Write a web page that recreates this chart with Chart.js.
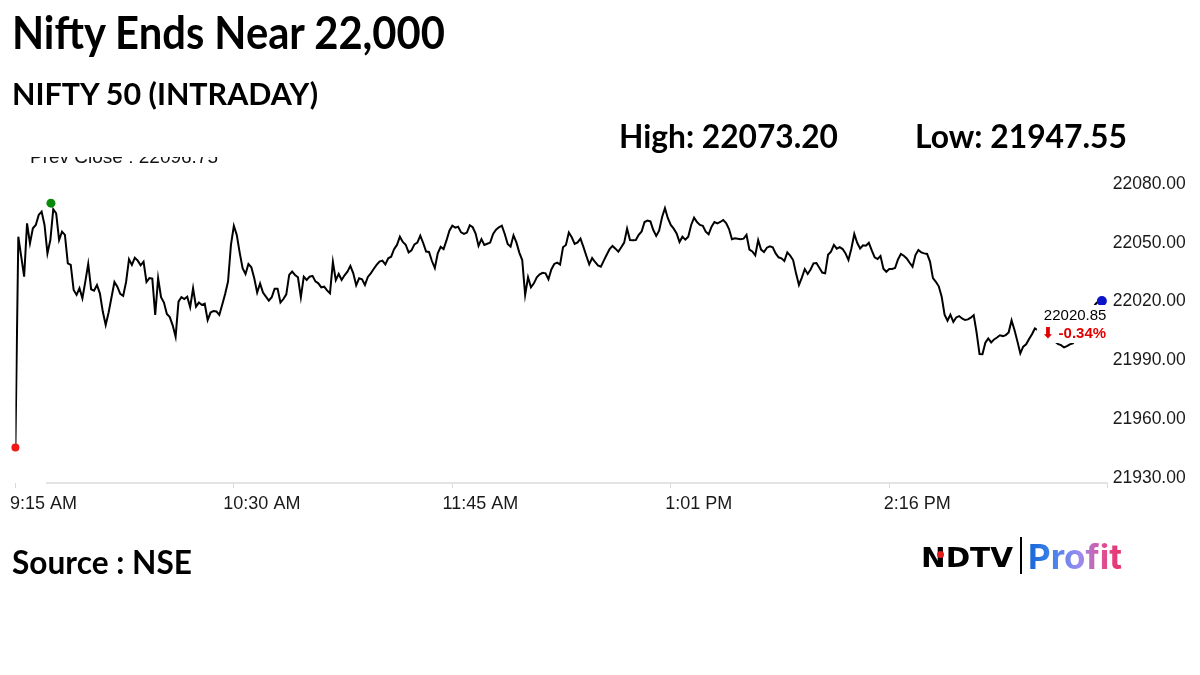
<!DOCTYPE html>
<html>
<head>
<meta charset="utf-8">
<script src="https://cdn.jsdelivr.net/npm/chart.js@4.4.1/dist/chart.umd.min.js"></script>
<style>
  body { margin: 0; background: #fff; width: 1200px; height: 675px; overflow: hidden; position: relative; }
  #c { position: absolute; left: 0; top: 0; }
  .t { position: absolute; white-space: nowrap; font-family: Lato, sans-serif; font-weight: 700; color: #000; line-height: 1; transform-origin: 0 0; }
  #ndtv { font-family: "DejaVu Sans", sans-serif; font-size: 27px; }
  #profit { font-family: Inter, sans-serif; font-size: 34px;
    background: linear-gradient(90deg, #1565d8 0%, #3f82ea 25%, #9a8cf0 55%, #df4f92 80%, #e8336c 100%);
    -webkit-background-clip: text; background-clip: text; color: transparent; }
  #bar { position: absolute; left: 1020px; top: 537px; width: 2px; height: 37px; background: #000; }
  #dot { position: absolute; left: 937px; top: 551px; width: 7px; height: 7px; border-radius: 50%; background: #e21b1b; }
</style>
</head>
<body>
<canvas id="c" width="1200" height="675"></canvas>
<div class="t" data-w="433" style="left:12px;top:10px;font-size:45px">Nifty Ends Near 22,000</div>
<div class="t" data-w="306" style="left:12px;top:78px;font-size:31px">NIFTY 50 (INTRADAY)</div>
<div class="t" data-w="219" style="left:619px;top:120px;font-size:32px">High: 22073.20</div>
<div class="t" data-w="212" style="left:915px;top:120px;font-size:32px">Low: 21947.55</div>
<div class="t" data-w="180" style="left:12px;top:546px;font-size:32px">Source : NSE</div>
<div class="t" id="ndtv" data-w="92" style="left:921px;top:544px">NDTV</div>
<div id="dot"></div>
<div id="bar"></div>
<div class="t" id="profit" data-w="94" style="left:1028px;top:540px">Profit</div>
<script>
// NIFTY 50, one value per minute from 9:15
const values = [
  21945.5, 22053.1, 22042.9, 22032.7, 22059.9, 22049.7, 22057.4, 22059.1, 22064.2, 22065.9,
  22059.1, 22044.6, 22051.4, 22067.1, 22065.0, 22051.4, 22055.7, 22054.0, 22039.5, 22038.7,
  22025.9, 22023.4, 22026.8, 22021.7, 22030.2, 22039.2, 22026.3, 22025.6, 22028.5, 22024.2,
  22014.9, 22008.1, 22014.4, 22022.2, 22030.0, 22027.6, 22023.9, 22022.9, 22030.0, 22041.6,
  22038.7, 22042.4, 22040.9, 22038.5, 22040.4, 22030.0, 22032.0, 22031.7, 22013.2, 22031.9,
  22022.2, 22019.5, 22013.7, 22012.1, 22007.9, 22002.1, 22020.0, 22022.3, 22021.3, 22022.5,
  22017.1, 22026.8, 22017.4, 22019.5, 22018.3, 22018.9, 22010.6, 22014.4, 22015.2, 22015.0,
  22013.2, 22018.4, 22023.9, 22030.2, 22048.9, 22058.6, 22054.0, 22045.0, 22037.0, 22034.1,
  22039.2, 22037.5, 22031.9, 22024.6, 22029.2, 22024.6, 22022.5, 22020.5, 22022.2, 22026.6,
  22026.6, 22019.5, 22021.3, 22023.7, 22033.6, 22035.3, 22033.6, 22032.4, 22022.2, 22032.7,
  22031.0, 22032.7, 22033.1, 22030.3, 22029.3, 22027.3, 22027.6, 22025.7, 22024.2, 22040.2,
  22030.9, 22034.1, 22031.0, 22033.4, 22035.3, 22038.2, 22034.4, 22028.3, 22031.9, 22031.4,
  22028.5, 22032.6, 22034.4, 22036.6, 22038.7, 22040.4, 22040.9, 22039.0, 22042.1, 22042.9,
  22046.7, 22048.9, 22053.1, 22050.4, 22049.0, 22045.1, 22046.2, 22049.2, 22050.1, 22053.6,
  22049.9, 22045.5, 22045.3, 22040.7, 22037.1, 22044.6, 22047.9, 22046.8, 22051.2, 22056.2,
  22058.7, 22057.7, 22058.2, 22055.3, 22054.5, 22055.2, 22058.9, 22057.9, 22054.7, 22048.4,
  22051.9, 22048.9, 22049.5, 22050.1, 22054.5, 22056.7, 22057.9, 22058.7, 22054.5, 22049.4,
  22048.0, 22053.8, 22050.2, 22045.0, 22041.2, 22023.4, 22032.4, 22027.3, 22029.3, 22032.4,
  22033.9, 22034.7, 22034.4, 22031.4, 22036.4, 22039.2, 22039.9, 22038.9, 22047.7, 22048.9,
  22055.2, 22052.8, 22049.4, 22050.2, 22052.1, 22047.9, 22043.4, 22039.0, 22042.2, 22040.2,
  22038.5, 22037.8, 22040.9, 22043.9, 22046.8, 22048.4, 22047.0, 22045.5, 22047.7, 22050.1,
  22057.2, 22051.4, 22051.3, 22051.4, 22054.1, 22055.8, 22060.6, 22061.3, 22060.9, 22056.5,
  22053.5, 22056.2, 22063.0, 22067.6, 22062.5, 22059.1, 22057.2, 22054.8, 22050.4, 22053.1,
  22051.6, 22053.1, 22059.1, 22062.8, 22060.6, 22059.1, 22058.7, 22055.7, 22054.3, 22058.2,
  22060.6, 22059.9, 22060.6, 22061.6, 22060.1, 22057.0, 22051.8, 22052.3, 22052.1, 22051.8,
  22052.1, 22054.0, 22046.5, 22045.6, 22043.6, 22051.3, 22046.5, 22045.3, 22047.5, 22048.2,
  22047.7, 22044.6, 22042.6, 22042.1, 22040.7, 22045.1, 22043.4, 22041.2, 22034.4, 22028.5,
  22032.2, 22036.6, 22034.1, 22036.4, 22039.5, 22039.7, 22037.3, 22034.8, 22034.4, 22043.9,
  22045.5, 22048.9, 22047.0, 22047.8, 22046.8, 22044.6, 22041.2, 22047.1, 22054.5, 22050.0,
  22047.1, 22048.7, 22048.5, 22050.0, 22046.1, 22042.6, 22041.7, 22043.2, 22036.8, 22035.2,
  22036.6, 22036.6, 22037.1, 22041.5, 22044.3, 22043.4, 22042.0, 22039.8, 22037.8, 22043.7,
  22046.3, 22045.1, 22044.6, 22044.3, 22040.4, 22032.0, 22030.1, 22027.8, 22022.5, 22013.3,
  22010.2, 22013.3, 22009.7, 22011.9, 22012.6, 22011.4, 22010.6, 22010.9, 22011.8, 22013.1,
  22004.1, 21993.2, 21993.1, 21999.0, 22001.2, 21999.2, 22000.7, 22001.7, 22002.8, 22002.4,
  22002.9, 22004.3, 22010.4, 22005.5, 21999.7, 21993.6, 21997.0, 21998.2, 22000.9, 22003.3,
  22006.3, 22005.5, 22003.8, 22002.1, 22002.9, 22001.2, 22000.4, 21999.5, 21998.3, 21997.8,
  21996.6, 21997.3, 21998.2, 21998.7, 22000.5, 22003.0, 22006.0, 22009.0, 22012.0, 22015.0,
  22017.0, 22019.0, 22020.3
];

const xTickMinutes = [0, 75, 150, 225, 300, 375];
const xTickLabels = ["9:15 AM", "10:30 AM", "11:45 AM", "1:01 PM", "2:16 PM", ""];
const yTicks = [21930, 21960, 21990, 22020, 22050, 22080];

const highPoint = [{ x: 12.2, y: 22070.2 }];
const lowPoint = [{ x: 0, y: 21945.5 }];
const closePoint = [{ x: 373, y: 22020.3 }];
const prevClose = 22096.75;
const closeText = "22020.85";
const changeText = "\u2B07 -0.34%";

const overlay = {
  id: 'overlay',
  afterDatasetsDraw(chart) {
    const ctx = chart.ctx;
    const px = chart.scales.x.getPixelForValue(closePoint[0].x);
    const py = chart.scales.y.getPixelForValue(closePoint[0].y);
    ctx.save();
    ctx.fillStyle = '#fff';
    ctx.fillRect(px - 65, py + 4, 72, 38);
    ctx.textBaseline = 'middle';
    ctx.fillStyle = '#000';
    ctx.font = '15px "Liberation Sans", Arial, sans-serif';
    ctx.fillText(closeText, px - 58, py + 15);
    ctx.fillStyle = '#e00000';
    ctx.font = 'bold 15px "Liberation Sans", "DejaVu Sans", sans-serif';
    ctx.fillText(changeText, px - 60, py + 33);
    ctx.restore();
  },
  afterDraw(chart) {
    const ctx = chart.ctx, a = chart.chartArea;
    ctx.save();
    ctx.strokeStyle = '#e3e3e3';
    ctx.lineWidth = 2;
    ctx.beginPath();
    ctx.moveTo(46, a.bottom);
    ctx.lineTo(a.right, a.bottom);
    ctx.stroke();
    // previous close label, cut by the top of the plot
    const py = chart.scales.y.getPixelForValue(prevClose);
    ctx.beginPath();
    ctx.rect(0, a.top + 4, 400, 30);
    ctx.clip();
    ctx.fillStyle = '#111';
    ctx.font = '19px "Liberation Sans", Arial, sans-serif';
    ctx.textBaseline = 'alphabetic';
    ctx.fillText('Prev Close : ' + prevClose.toFixed(2), 30, py + 12);
    ctx.restore();
  }
};

const tickFont = { family: '"Liberation Sans", Arial, sans-serif' };

new Chart(document.getElementById('c'), {
  type: 'line',
  data: {
    datasets: [
      { data: values.map((v, i) => ({ x: i, y: v })), borderColor: '#000', borderWidth: 2,
        pointRadius: 0, tension: 0, fill: false, order: 1 },
      { type: 'scatter', data: highPoint, pointRadius: 4.5, backgroundColor: '#0a8a0a', borderWidth: 0, clip: false, order: 0 },
      { type: 'scatter', data: lowPoint, pointRadius: 4, backgroundColor: '#f01818', borderWidth: 0, clip: false, order: 0 },
      { type: 'scatter', data: closePoint, pointRadius: 5, backgroundColor: '#0a14c8', borderWidth: 0, clip: false, order: 0 }
    ]
  },
  options: {
    responsive: false,
    animation: false,
    events: [],
    layout: { padding: { left: 15.4, top: 153, right: 0, bottom: 0 } },
    plugins: { legend: { display: false }, tooltip: { enabled: false } },
    scales: {
      x: {
        type: 'linear', min: 0, max: 375,
        afterBuildTicks: s => { s.ticks = xTickMinutes.map(v => ({ value: v })); },
        afterFit: s => { s.height = 192; s.paddingLeft = 0; s.paddingRight = 0; },
        ticks: { callback: (v, i) => xTickLabels[i], labelOffset: 28, padding: 5, maxRotation: 0,
          autoSkip: false, color: '#1a1a1a', font: { ...tickFont, size: 18 } },
        grid: { drawOnChartArea: false, drawTicks: true, tickLength: 5, color: '#d9d9d9' },
        border: { display: false }
      },
      y: {
        position: 'right', min: 21927.45, max: 22095.8,
        afterBuildTicks: s => { s.ticks = yTicks.map(v => ({ value: v })); },
        afterFit: s => { s.width = 92.3; },
        ticks: { callback: v => v.toFixed(2), padding: 5, color: '#1a1a1a', font: { ...tickFont, size: 17.5 } },
        grid: { display: false, drawTicks: false },
        border: { display: false }
      }
    }
  },
  plugins: [overlay]
});

function fitTexts() {
  document.querySelectorAll('[data-w]').forEach(el => {
    el.style.transform = 'none';
    const w = el.getBoundingClientRect().width;
    el.style.transform = 'scaleX(' + (parseFloat(el.dataset.w) / w) + ')';
  });
}
fitTexts();
if (document.fonts) document.fonts.ready.then(fitTexts);
</script>
</body>
</html>
